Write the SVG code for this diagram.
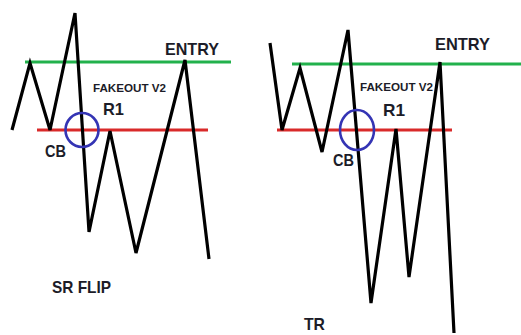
<svg xmlns="http://www.w3.org/2000/svg" width="521" height="335" viewBox="0 0 521 335">
<style>
.price{fill:none;stroke:#000;stroke-width:3.2;stroke-linejoin:miter;stroke-linecap:butt}
.entry{stroke:#22b14c;stroke-width:3}
.sr{stroke:#d92a2a;stroke-width:3}
.cb{fill:none;stroke:#3434b4;stroke-width:2.6}
text{font-family:"Liberation Sans",Arial,sans-serif;font-weight:bold;fill:#1c1c28}
.big{font-size:17px}
.small{font-size:10.5px}
</style>
<rect width="521" height="335" fill="#fff"/>
<g id="left-chart">
  <line class="entry" x1="25" y1="62" x2="231" y2="62"/>
  <line class="sr" x1="37" y1="130" x2="208" y2="130"/>
  <polyline class="price" points="12,130 30,63 50,130 75,13 89,232 110,131 136,253 185,60 209,259"/>
  <ellipse class="cb" cx="82" cy="130" rx="16.5" ry="17"/>
  <text class="big" x="165" y="55" textLength="54" lengthAdjust="spacingAndGlyphs">ENTRY</text>
  <text class="small" x="93" y="92" textLength="73" lengthAdjust="spacingAndGlyphs">FAKEOUT V2</text>
  <text class="big" x="103" y="115" textLength="21" lengthAdjust="spacingAndGlyphs">R1</text>
  <text class="big" x="45" y="157" textLength="21" lengthAdjust="spacingAndGlyphs">CB</text>
  <text class="big" x="52" y="293" textLength="59" lengthAdjust="spacingAndGlyphs">SR FLIP</text>
</g>
<g id="right-chart">
  <line class="entry" x1="292" y1="64" x2="521" y2="64"/>
  <line class="sr" x1="277" y1="130" x2="452" y2="130"/>
  <polyline class="price" points="270,43 282,130 300,68 322,152 348,30 371,303 396,129 409,277 440,62 454,333"/>
  <ellipse class="cb" cx="357" cy="130" rx="17" ry="20"/>
  <text class="big" x="435" y="50" textLength="55" lengthAdjust="spacingAndGlyphs">ENTRY</text>
  <text class="small" x="360" y="91" textLength="73" lengthAdjust="spacingAndGlyphs">FAKEOUT V2</text>
  <text class="big" x="383" y="116" textLength="22" lengthAdjust="spacingAndGlyphs">R1</text>
  <text class="big" x="333" y="166" textLength="21" lengthAdjust="spacingAndGlyphs">CB</text>
  <text class="big" x="304" y="330" textLength="21" lengthAdjust="spacingAndGlyphs">TR</text>
</g>
</svg>
